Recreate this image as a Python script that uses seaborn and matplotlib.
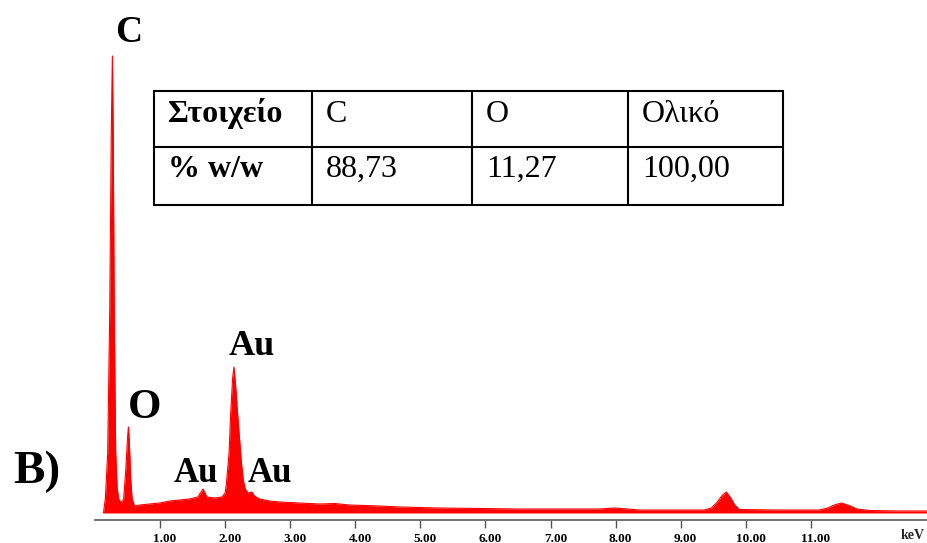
import matplotlib
matplotlib.use("Agg")
import matplotlib.pyplot as plt
import matplotlib.transforms as mtransforms
from matplotlib.lines import Line2D
import seaborn as sns
import pandas as pd

# EDS spectrum outline: energy (keV) and intensity (arbitrary counts)
energy_kev = [0.13, 0.16, 0.195, 0.226, 0.25, 0.267, 0.28, 0.295, 0.318, 0.34,
              0.364, 0.405, 0.44, 0.47, 0.50, 0.513, 0.525, 0.548, 0.57, 0.61,
              0.69, 0.84, 0.99, 1.15, 1.30, 1.45, 1.58, 1.66, 1.72, 1.84,
              1.95, 2.00, 2.02, 2.06, 2.085, 2.115, 2.135, 2.16, 2.19, 2.22,
              2.25, 2.28, 2.31, 2.35, 2.41, 2.45, 2.53, 2.68, 2.84, 3.14,
              3.45, 3.68, 3.91, 4.37, 4.68, 5.29, 5.91, 6.52, 7.14, 7.75,
              7.98, 8.18, 8.37, 8.98, 9.36, 9.47, 9.55, 9.63, 9.70, 9.77,
              9.83, 9.90, 10.52, 11.13, 11.26, 11.36, 11.47, 11.59, 11.71, 11.90,
              12.36, 12.80]
counts = [0, 15, 60, 200, 380, 457, 380, 200, 60, 25,
          14, 10, 14, 40, 75, 86, 75, 35, 14, 7,
          8, 9, 10, 12, 13, 14, 16, 24, 16, 15,
          16, 20, 30, 60, 100, 135, 146, 128, 100, 75,
          50, 32, 24, 20, 21, 17, 14, 12, 11, 10,
          9, 9.5, 8, 7, 6, 5, 4.5, 4, 4, 4,
          5, 4, 3, 3, 3, 5, 10, 17, 21, 15,
          8, 3.5, 3, 3, 5, 8, 10, 7.5, 4, 2.5,
          2, 2]

tick_values = [1, 2, 3, 4, 5, 6, 7, 8, 9, 10, 11]
tick_labels = ["1.00", "2.00", "3.00", "4.00", "5.00", "6.00",
               "7.00", "8.00", "9.00", "10.00", "11.00"]

# Peak annotations: label, x pixel centre, baseline pixel, font size
peak_labels = ["C", "O", "Au", "Au", "Au"]
peak_x = [129, 145, 252, 196, 270]
peak_base = [42, 418, 355, 482, 482]
peak_size = [27, 31, 26, 25, 25]

# Composition table
table_header = ["Στοιχείο", "C", "O", "Ολικό"]
table_values = ["% w/w", "88,73", "11,27", "100,00"]

W, H = 928, 543
SERIF = ["Liberation Serif", "DejaVu Serif"]

sns.set_theme(style="white")
plt.rcParams["font.family"] = SERIF

fig = plt.figure(figsize=(W / 100, H / 100), dpi=100)
fig.patch.set_facecolor("white")


def fx(x):
    return x / W


def fy(y):
    return 1 - y / H


ax = fig.add_axes([fx(95), fy(520), 833 / W, 520 / H])
ax.set_facecolor("white")

df = pd.DataFrame({"energy": energy_kev, "counts": counts})
ax.fill_between(df["energy"], 0, df["counts"], color="#ff0000", linewidth=0)
sns.lineplot(data=df, x="energy", y="counts", ax=ax, color="#ff0000",
             linewidth=0.8, estimator=None, sort=False)

ax.set_xlim(0, 12.8)
ax.set_ylim(-7, 513)
ax.set_xlabel("")
ax.set_ylabel("")
ax.set_yticks([])
ax.set_xticks(tick_values)
ax.set_xticklabels(tick_labels, fontsize=9.5, fontweight="bold",
                   family=SERIF, color="black")
ax.tick_params(axis="x", direction="out", length=6, width=1,
               color="#555555", pad=3, bottom=True)
shift = mtransforms.ScaledTranslation(5 / 100, 0, fig.dpi_scale_trans)
for lbl in ax.get_xticklabels():
    lbl.set_transform(lbl.get_transform() + shift)

for side in ["top", "right", "left"]:
    ax.spines[side].set_visible(False)
ax.spines["bottom"].set_color("#666666")
ax.spines["bottom"].set_linewidth(1.3)

fig.text(fx(913), fy(539), "keV", fontsize=10, fontweight="bold",
         family=SERIF, ha="center", va="baseline")

# Element labels above the peaks
for lab, x, yb, fs in zip(peak_labels, peak_x, peak_base, peak_size):
    fig.text(fx(x), fy(yb), lab, fontsize=fs, fontweight="bold",
             family=SERIF, ha="center", va="baseline", color="black")

fig.text(fx(13), fy(483), "B)", fontsize=34, fontweight="bold",
         family=SERIF, ha="left", va="baseline", color="black")

# Composition table drawn in figure pixels
col_edges = [154, 312, 472, 628, 783]
row_edges = [91, 147, 205]
lw = 1.5
for xe in col_edges:
    fig.add_artist(Line2D([fx(xe), fx(xe)], [fy(row_edges[0]), fy(row_edges[-1])],
                          color="black", linewidth=lw, transform=fig.transFigure))
for ye in row_edges:
    fig.add_artist(Line2D([fx(col_edges[0]), fx(col_edges[-1])], [fy(ye), fy(ye)],
                          color="black", linewidth=lw, transform=fig.transFigure))

row_baselines = [122, 177]
for r, row in enumerate([table_header, table_values]):
    for c, txt in enumerate(row):
        fig.text(fx(col_edges[c] + 14), fy(row_baselines[r]), txt,
                 fontsize=23, fontweight="bold" if c == 0 else "normal",
                 family=SERIF, ha="left", va="baseline", color="black")

fig.savefig("out.png", dpi=100, facecolor="white")
